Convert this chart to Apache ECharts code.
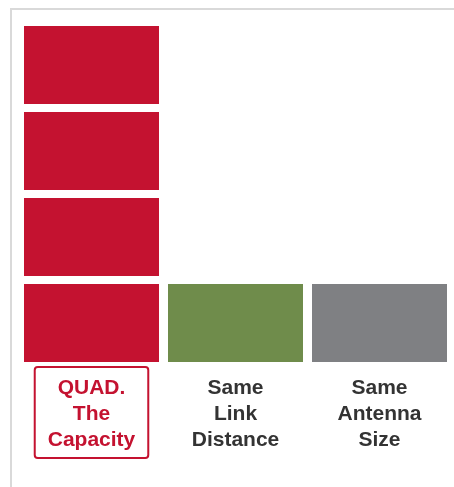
<!DOCTYPE html>
<html>
<head>
<meta charset="utf-8">
<script src="https://cdn.jsdelivr.net/npm/echarts@6/dist/echarts.min.js"></script>
<style>
  html, body { margin: 0; padding: 0; background: #fff; }
  #chart { width: 454px; height: 487px; }
</style>
</head>
<body>
<div id="chart"></div>
<script>
// Capacity comparison, drawn as stacked unit blocks
const categories = ['QUAD.\nThe\nCapacity', 'Same\nLink\nDistance', 'Same\nAntenna\nSize'];
const blockCounts = [4, 1, 1];
const blockColors = ['#C41230', '#6F8C4B', '#7F8083'];

const RED = '#C41230';
const TEXT = '#333333';

const chart = echarts.init(document.getElementById('chart'));

const seriesData = blockCounts.map((n, i) => ({
  value: [i, n],
  itemStyle: { color: blockColors[i] }
}));

// Draw one rectangle per unit, leaving a small white gap around each block
function renderBlocks(params, api) {
  const idx = api.value(0);
  const n = api.value(1);
  const band = api.size([1, 0])[0];
  const color = api.visual('color');
  const gapX = 4.5, gapY = 4;
  const children = [];
  for (let k = 0; k < n; k++) {
    const p0 = api.coord([idx, k]);
    const p1 = api.coord([idx, k + 1]);
    children.push({
      type: 'rect',
      shape: {
        x: p0[0] - band / 2 + gapX,
        y: p1[1] + gapY,
        width: band - 2 * gapX,
        height: (p0[1] - p1[1]) - 2 * gapY
      },
      style: { fill: color }
    });
  }
  return { type: 'group', children: children };
}

chart.setOption({
  animation: false,
  backgroundColor: '#ffffff',
  grid: { left: 19.5, right: 2.5, top: 22, bottom: 121 },
  xAxis: {
    type: 'category',
    data: categories.map((c, i) => i === 0 ? {
      value: c,
      textStyle: {
        color: RED,
        borderColor: RED,
        borderWidth: 2,
        borderRadius: 3
      }
    } : c),
    axisLine: { show: false },
    axisTick: { show: false },
    axisLabel: {
      interval: 0,
      margin: 1,
      color: TEXT,
      fontFamily: 'Liberation Sans, Arial, sans-serif',
      fontWeight: 'bold',
      fontSize: 21,
      lineHeight: 26,
      align: 'center',
      padding: [8, 13, 5, 13]
    }
  },
  yAxis: {
    type: 'value',
    min: 0,
    max: 4,
    show: false
  },
  series: [{
    type: 'custom',
    renderItem: renderBlocks,
    encode: { x: 0, y: 1 },
    data: seriesData
  }],
  graphic: [
    {
      type: 'line',
      shape: { x1: 11, y1: 8, x2: 11, y2: 487 },
      style: { stroke: '#d9d9d9', lineWidth: 2 }
    },
    {
      type: 'line',
      shape: { x1: 10, y1: 9, x2: 454, y2: 9 },
      style: { stroke: '#d9d9d9', lineWidth: 2 }
    }
  ]
});
</script>
</body>
</html>
